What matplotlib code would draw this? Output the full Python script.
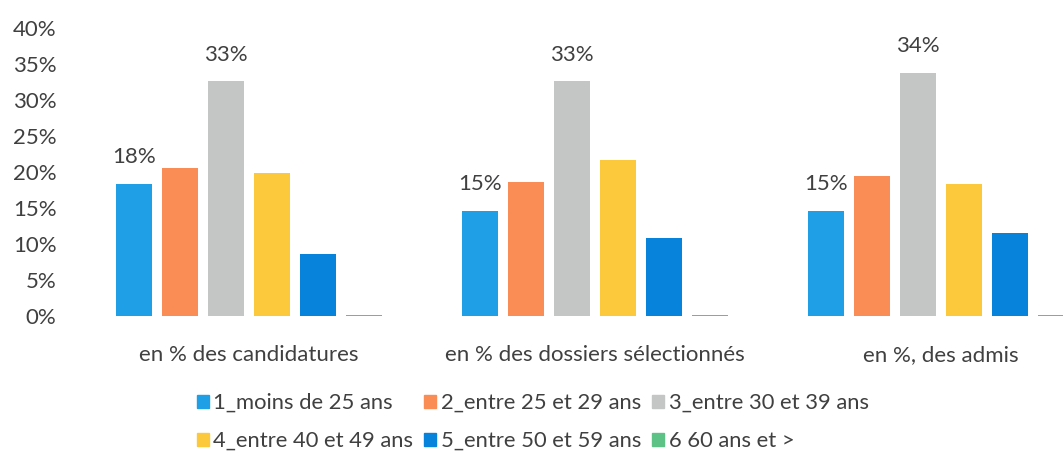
import numpy as np
import matplotlib
matplotlib.use("Agg")
import matplotlib.pyplot as plt
from matplotlib.patches import Patch

plt.rcParams['font.family'] = ['Lato', 'DejaVu Sans']

# Données
groupes = ["en % des candidatures", "en % des dossiers sélectionnés", "en %, des admis"]
tranches = ["1_moins de 25 ans", "2_entre 25 et 29 ans", "3_entre 30 et 39 ans",
            "4_entre 40 et 49 ans", "5_entre 50 et 59 ans", "6 60 ans et >"]
moins_25 = [18.4, 14.6, 14.6]
de_25_29 = [20.5, 18.6, 19.4]
de_30_39 = [32.6, 32.6, 33.8]
de_40_49 = [19.8, 21.7, 18.4]
de_50_59 = [8.6, 10.8, 11.5]
plus_60 = [0.2, 0.2, 0.2]
series = [moins_25, de_25_29, de_30_39, de_40_49, de_50_59, plus_60]
avec_etiquette = [0, 2]   # seules les séries 1 et 3 sont étiquetées

couleurs = ['#1FA0E6', '#FA8C55', '#C4C6C6', '#FDC93C', '#0883DB', '#5CC285']
txt = '#404040'

fig = plt.figure(figsize=(10.63, 4.59), dpi=100)
ax = fig.add_axes([0.0715, 0.3115, 0.9285, 0.6275])

x = np.arange(len(groupes))
pas = 0.133
larg = 0.104
for i, vals in enumerate(series):
    pos = x + (i - 2.5) * pas
    ax.bar(pos, vals, width=larg, color=couleurs[i])
    if i in avec_etiquette:
        for p, v in zip(pos, vals):
            ax.text(p, v + 2.3, f"{round(v):.0f}%", ha='center', va='bottom',
                    fontsize=16, color=txt)

ax.set_ylim(0, 40)
ax.set_xlim(-0.5, 2.353)
ax.set_yticks(range(0, 41, 5))
ax.set_yticklabels([f"{t}%" for t in range(0, 41, 5)])
ax.set_xticks(x)
ax.set_xticklabels(groupes)
ax.tick_params(axis='y', length=0, pad=14, labelsize=16, labelcolor=txt)
ax.tick_params(axis='x', length=0, pad=21, labelsize=16, labelcolor=txt)
for s in ax.spines.values():
    s.set_visible(False)

# légende : 3 colonnes, remplie ligne par ligne
ordre = [0, 3, 1, 4, 2, 5]
poignees = [Patch(color=couleurs[k]) for k in ordre]
noms = [tranches[k] for k in ordre]
fig.legend(poignees, noms, ncol=3, loc='center left',
           bbox_to_anchor=(0.1853, 0.0806), frameon=False, fontsize=15.8,
           handlelength=0.55, handleheight=0.55, handletextpad=0.2,
           columnspacing=0.5, labelspacing=0.82, labelcolor=txt,
           borderpad=0, borderaxespad=0)

fig.savefig("out.png", dpi=100)
